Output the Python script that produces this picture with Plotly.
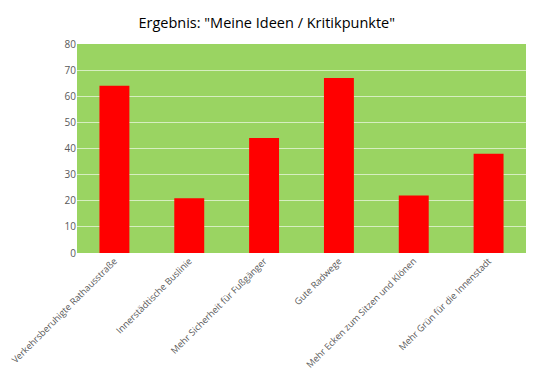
import plotly.graph_objects as go

categories = [
    "Verkehrsberuhigte Rathausstraße",
    "Innerstädtische Buslinie",
    "Mehr Sicherheit für Fußgänger",
    "Gute Radwege",
    "Mehr Ecken zum Sitzen und Klönen",
    "Mehr Grün für die Innenstadt",
]
values = [64, 21, 44, 67, 22, 38]
y_ticks = [0, 10, 20, 30, 40, 50, 60, 70, 80]

fig = go.Figure(go.Bar(x=categories, y=values, marker=dict(color="#ff0000", line=dict(width=0))))

fig.update_layout(
    width=528, height=369,
    margin=dict(l=69, r=10, t=36, b=124),
    paper_bgcolor="white",
    plot_bgcolor="#9ad462",
    bargap=0.6,
    showlegend=False,
    title=dict(text='Ergebnis: "Meine Ideen / Kritikpunkte"', x=0.49, xanchor="center", y=0.96, yanchor="middle",
               font=dict(family="Open Sans", size=14.5, color="#000000")),
    font=dict(family="Open Sans", size=10, color="#595959"),
)
fig.update_xaxes(tickangle=-45, tickfont=dict(family="Open Sans", size=9.2, color="#595959"),
                 showgrid=False, ticks="", showline=False, automargin=False)
fig.update_yaxes(range=[0, 80], tickvals=y_ticks, showgrid=True, gridcolor="rgba(255,255,255,0.6)", gridwidth=1,
                 zeroline=False, tickfont=dict(size=10, color="#595959"), ticks="", automargin=False)

fig.write_html("out.html")
